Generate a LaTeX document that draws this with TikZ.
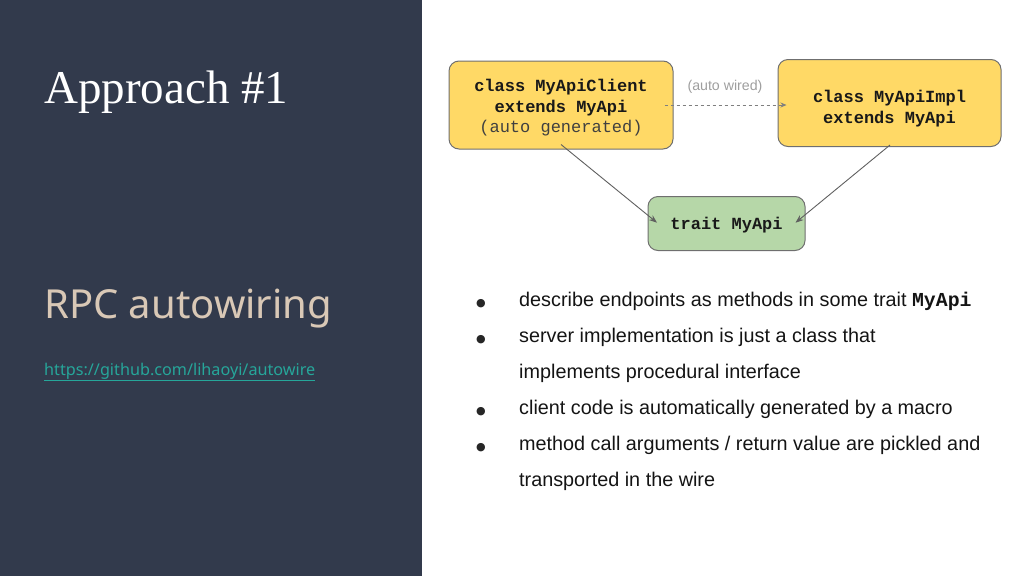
\documentclass[tikz,border=0pt]{standalone}
\usepackage{fontspec}
\setmainfont{Liberation Sans}
\newfontfamily\titlefont{Liberation Serif}
\newfontfamily\subfont{Noto Sans}
\newfontfamily\codefont{Liberation Mono}
\newfontfamily\symfont{DejaVu Sans}
\usetikzlibrary{arrows.meta}
\definecolor{panel}{HTML}{323A4C}
\definecolor{ybox}{HTML}{FFD966}
\definecolor{gbox}{HTML}{B6D7A8}
\definecolor{bordergray}{HTML}{6F6F6F}
\definecolor{arrowgray}{HTML}{5F5F5F}
\definecolor{beige}{HTML}{D9C8B6}
\definecolor{linkteal}{HTML}{26A69A}
\definecolor{labelgray}{HTML}{9E9E9E}
\newcommand{\boxlines}[2]{\raisebox{#1}[0pt][0pt]{\begin{tabular}{@{}c@{}}#2\end{tabular}}}
\tikzset{
  boxbase/.style={draw=bordergray, line width=1pt, rounded corners=10pt, inner sep=0pt, align=center,
    font=\codefont\fontsize{17}{20.5}\selectfont, text=black!90},
  yellowbox/.style={boxbase, fill=ybox},
  greenbox/.style={boxbase, fill=gbox},
  conn/.style={draw=arrowgray, line width=0.9pt, -{Stealth[length=8pt,width=6pt]}},
  dconn/.style={draw=arrowgray!80, line width=0.9pt, dash pattern=on 3.5pt off 2.5pt, -{Stealth[length=6pt,width=5pt]}},
  bullettext/.style={anchor=base west, inner sep=0pt, font=\fontsize{19.8}{36}\selectfont, text=black!92, align=left},
  bulletdot/.style={anchor=base, inner sep=0pt, font=\symfont\fontsize{11}{12}\selectfont, text=black!85}
}
\begin{document}
\begin{tikzpicture}[x=1pt,y=-1pt]
\useasboundingbox (0,0) rectangle (1024,576);
\fill[panel] (0,0) rectangle (422,576);

% left panel texts
\node[anchor=base west, inner sep=0pt, text=white, font=\titlefont\fontsize{47}{50}\selectfont] (title) at (44,103) {Approach \#1};
\node[anchor=base west, inner sep=0pt, text=beige, font=\subfont\fontsize{40}{44}\selectfont] (sub) at (44,318) {RPC autowiring};
\node[anchor=base west, inner sep=0pt, text=linkteal, font=\subfont\fontsize{16.2}{18}\selectfont] (url) at (44,375) {\underline{https://github.com/lihaoyi/autowire}};

% diagram
\node[yellowbox, minimum width=224pt, minimum height=88pt] (client) at (561,105)
  {\boxlines{-7.5pt}{\bfseries class MyApiClient\\ \bfseries extends MyApi\\ \color{black!75}(auto generated)}};
\node[yellowbox, minimum width=223pt, minimum height=87pt] (impl) at (889.5,103)
  {\boxlines{-10pt}{\bfseries class MyApiImpl\\ \bfseries extends MyApi}};
\node[greenbox, minimum width=157pt, minimum height=54pt] (trait) at (726.5,223.5)
  {\boxlines{-6pt}{\bfseries trait MyApi}};

\node[inner sep=0pt, text=labelgray, font=\fontsize{14.2}{16}\selectfont] (wired) at (725,87) {(auto wired)};

\draw[dconn] ([xshift=-9pt]client.east) -- ([xshift=9pt,yshift=-2pt]impl.west);
\draw[conn] ([xshift=0pt,yshift=5pt]client.south) -- ([xshift=9.5pt,yshift=0.8pt]trait.west);
\draw[conn] ([xshift=0.5pt,yshift=2pt]impl.south) -- ([xshift=-10pt,yshift=0.8pt]trait.east);

% bullets
\node[bulletdot] (b1) at (481,306) {●};
\node[bullettext] (t1) at (519,306) {describe endpoints as methods in some trait {\codefont\bfseries MyApi}};
\node[bulletdot] (b2) at (481,342) {●};
\node[bullettext] (t2) at (519,342) {server implementation is just a class that};
\node[bullettext] (t2b) at (519,378) {implements procedural interface};
\node[bulletdot] (b3) at (481,414) {●};
\node[bullettext] (t3) at (519,414) {client code is automatically generated by a macro};
\node[bulletdot] (b4) at (481,450) {●};
\node[bullettext] (t4) at (519,450) {method call arguments / return value are pickled and};
\node[bullettext] (t4b) at (519,486) {transported in the wire};
\end{tikzpicture}
\end{document}
